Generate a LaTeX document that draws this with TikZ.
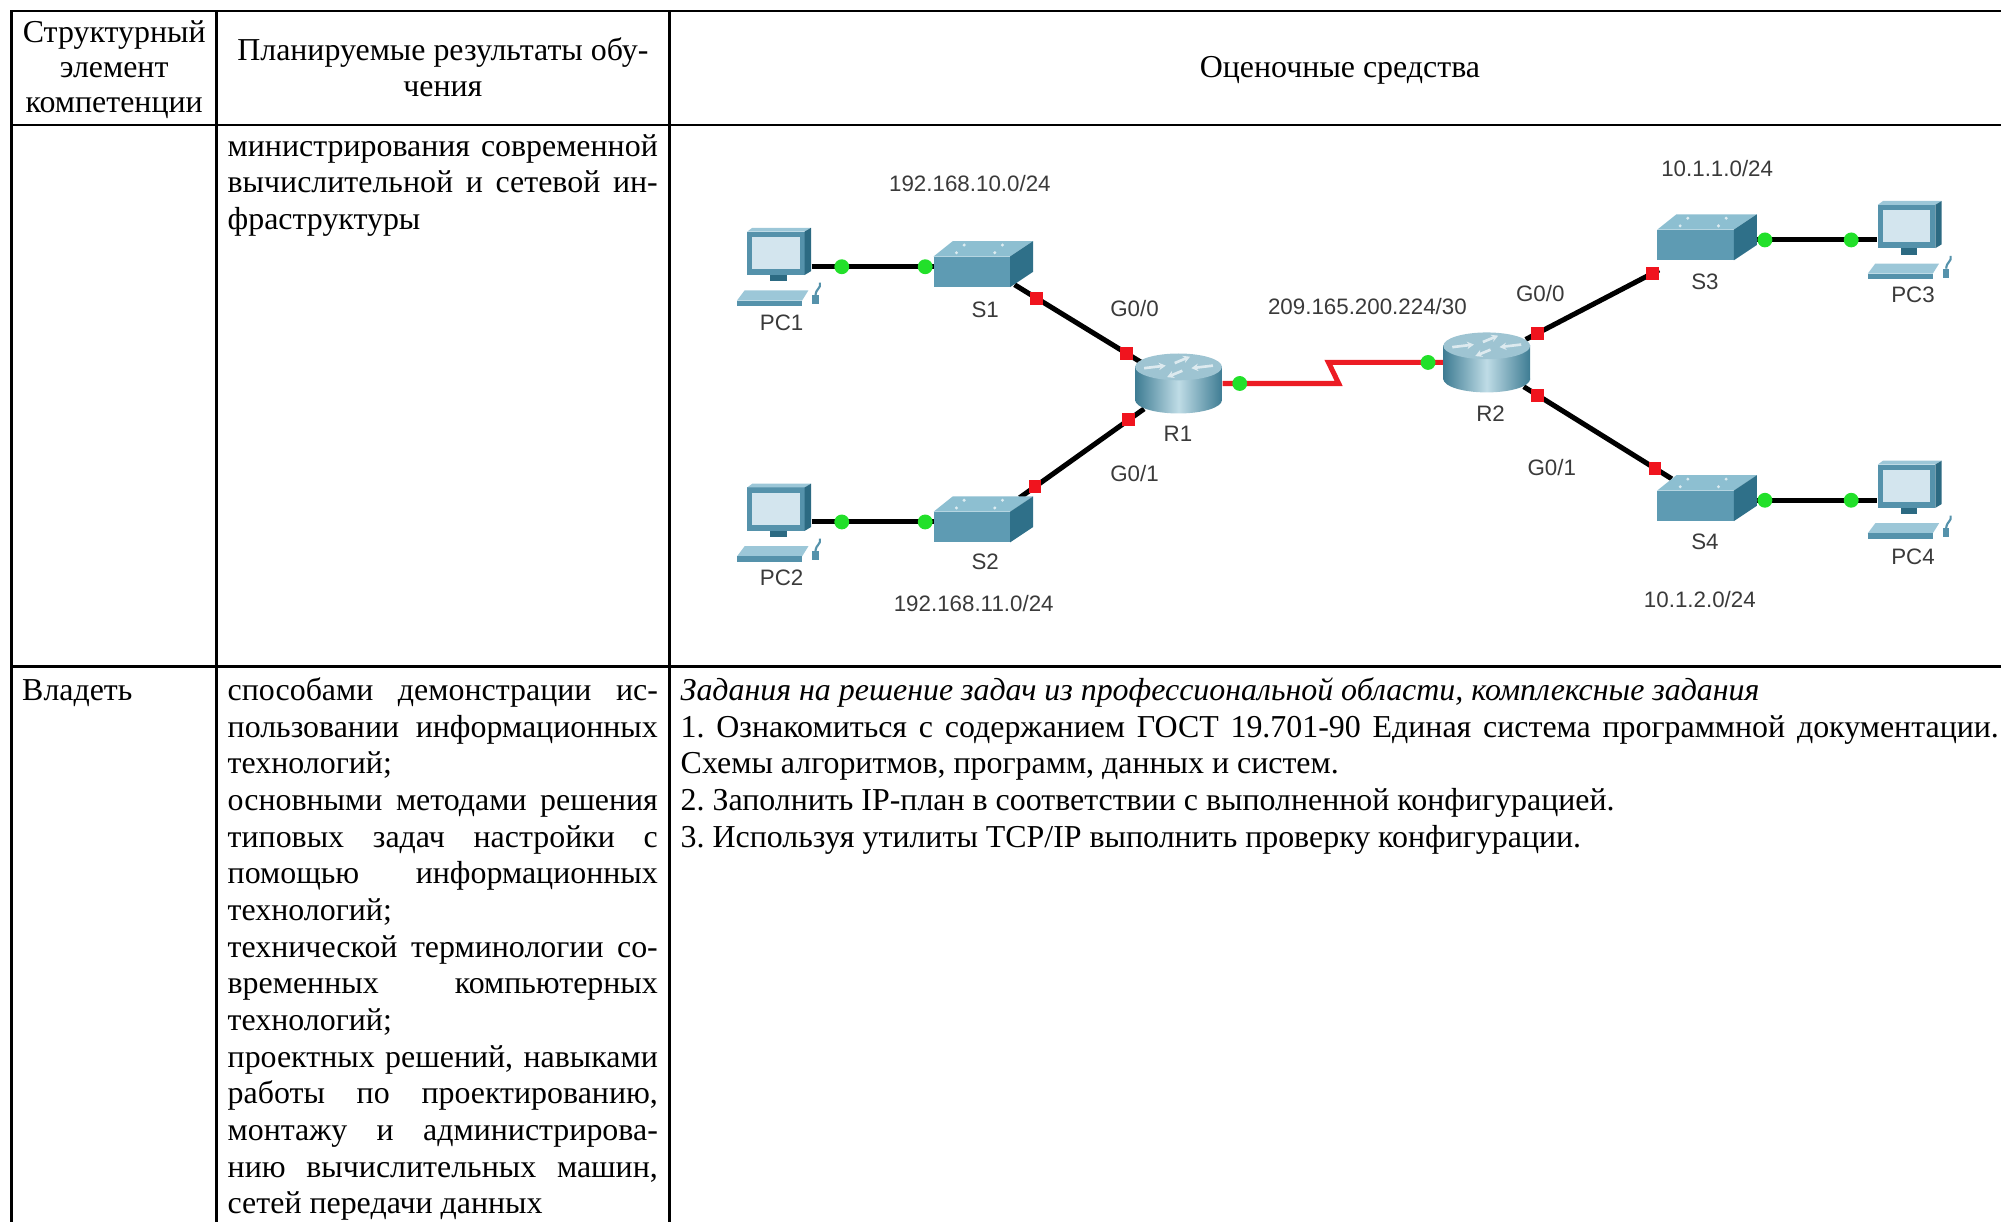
\documentclass[tikz,border=0pt]{standalone}
\usepackage{fontspec}
\setmainfont{Liberation Serif}
\newfontfamily\netfont{Liberation Sans}
\usepackage{xcolor}
\usepackage{tikz}
\usetikzlibrary{arrows.meta}

\definecolor{pcframe}{HTML}{5592AB}
\definecolor{pcdark}{HTML}{2C6A82}
\definecolor{pclight}{HTML}{9CC7D8}
\definecolor{pcscreen}{HTML}{D3E5EE}
\definecolor{swfront}{HTML}{5E9BB3}
\definecolor{swtop}{HTML}{8DBFD1}
\definecolor{swside}{HTML}{2F7089}
\definecolor{rtdark}{HTML}{3E7C93}
\definecolor{rtlight}{HTML}{BFDCE6}
\definecolor{rttop}{HTML}{9EC4D2}
\definecolor{portgreen}{HTML}{22E02A}
\definecolor{portred}{HTML}{F0141E}
\definecolor{serialred}{HTML}{EC1C24}
\definecolor{lblgray}{HTML}{3A3A3A}

\begin{document}
\begin{tikzpicture}[x=0.48pt, y=-0.48pt,
  tabline/.style={line width=1.05pt, line cap=rect},
  txt/.style={anchor=base west, inner sep=0pt, font=\fontsize{12pt}{13.8pt}\selectfont\frenchspacing},
  head/.style={txt, anchor=base},
  lbl/.style={inner sep=0pt, text=lblgray, font=\netfont\fontsize{8.4pt}{10pt}\selectfont},
  lan/.style={line width=1.9pt, black},
  wan/.style={line width=1.9pt, serialred},
  gdot/.style={circle, fill=portgreen, inner sep=0pt, minimum size=5.6pt},
  rdot/.style={rectangle, fill=portred, inner sep=0pt, minimum size=4.8pt},
  pc/.pic={
    \fill[pcframe] (-25,-17) rectangle (20,17);
    \fill[pclight] (-25,-17) -- (-21,-20) -- (25,-20) -- (20,-17) -- cycle;
    \fill[pcdark] (20,-17) -- (25,-20) -- (25,14) -- (20,17) -- cycle;
    \fill[pcscreen] (-21,-13) rectangle (16,12);
    \fill[pcdark] (-7,17) rectangle (6,22);
    \fill[pclight] (-33,37) -- (-27,29) -- (23,29) -- (18,37) -- cycle;
    \fill[pcframe] (-33,37) rectangle (18,41);
    \fill[pcframe] (26,33) rectangle (31,40);
    \draw[pcframe, line width=0.8pt] (28.5,33) .. controls (29,27) and (33,28) .. (32,23);
  },
  switch/.pic={
    \fill[swfront] (-30,-12) rectangle (30,12);
    \fill[swtop] (-30,-12) -- (-15,-24) -- (48,-24) -- (30,-12) -- cycle;
    \fill[swside] (30,-12) -- (48,-24) -- (48,0) -- (30,12) -- cycle;
    \foreach \a/\b in {-6/-21,24/-21,-12/-15,18/-15}
      \fill[white!70!swtop] (\a,\b) circle (1.3);
  },
  router/.pic={
    \shade[left color=rtdark, right color=rtdark, middle color=rtlight] (-34,-13) rectangle (34,13);
    \shade[left color=rtdark, right color=rtdark, middle color=rtlight] (0,13) ellipse [x radius=34, y radius=10.5];
    \fill[rttop] (0,-13) ellipse [x radius=34, y radius=10.5];
    \foreach \a/\b/\c/\d in {-27/-12/-10/-14, 27/-14/10/-12, -3/-16/9/-21, 3/-10/-9/-5}
      \draw[white!65!rttop, line width=1pt, -{Stealth[length=2.6pt,width=2.8pt]}] (\a,\b) -- (\c,\d);
  }]
  \useasboundingbox (0,0) rectangle (1568,957);

  % table
  \draw[tabline] (9,8.6) -- (1600,8.6);
  \draw[tabline] (9,98) -- (1600,98);
  \draw[tabline] (9,522.5) -- (1600,522.5);
  \foreach \x in {9,169.5,524.5} {
    \draw[tabline] (\x,8.6) -- (\x,990);
  }

  % header
  \foreach \t [count=\i] in {Структурный, элемент, компетенции} {
    \node[head] (hA\i) at (89.5,5.5+27.5*\i) {\t};
  }
  \node[head] (hB1) at (347,47.5) {Планируемые результаты обу-};
  \node[head] (hB2) at (347,75.5) {чения};
  \node[head] (hC) at (1050,61) {Оценочные средства};

  % second row
  \foreach \m/\t [count=\i from 0] in {s/{министрирования современной}, s/{вычислительной и сетевой ин-}, l/{фраструктуры}} {
    \node[txt] (infra\i) at (178,122.5+28.72*\i) {\makebox[161.8pt][\m]{\t}};
  }

  % third row
  \node[txt] (own) at (17,549) {Владеть};
  \foreach \m/\t [count=\i from 0] in {
      s/{способами демонстрации ис-},
      s/{пользовании информационных},
      l/{технологий;},
      s/{основными методами решения},
      s/{типовых задач настройки с},
      s/{помощью информационных},
      l/{технологий;},
      s/{технической терминологии со-},
      s/{временных компьютерных},
      l/{технологий;},
      s/{проектных решений, навыками},
      s/{работы по проектированию,},
      s/{монтажу и администрирова-},
      s/{нию вычислительных машин,},
      l/{сетей передачи данных}} {
    \node[txt] (skill\i) at (178,549+28.72*\i) {\makebox[161.8pt][\m]{\t}};
  }
  \foreach \m/\t [count=\i from 0] in {
      l/{\itshape Задания на решение задач из профессиональной области, комплексные задания},
      s/{1. Ознакомиться с содержанием ГОСТ 19.701-90 Единая система программной документации.},
      l/{Схемы алгоритмов, программ, данных и систем.},
      l/{2. Заполнить IP-план в соответствии с выполненной конфигурацией.},
      l/{3. Используя утилиты TCP/IP выполнить проверку конфигурации.}} {
    \node[txt] (task\i) at (533,549+28.72*\i) {\makebox[495.8pt][\m]{\t}};
  }

  % network: devices and ports
  \coordinate (PC1) at (610.5,198.5);
  \coordinate (PC2) at (610.5,399);
  \coordinate (PC3) at (1496.5,177.5);
  \coordinate (PC4) at (1496.5,381);
  \coordinate (S1) at (761.5,213);
  \coordinate (S2) at (761.5,413);
  \coordinate (S3) at (1328.6,192);
  \coordinate (S4) at (1328.6,396.4);
  \coordinate (R1) at (923.5,300.5);
  \coordinate (R2) at (1165,284);

  \coordinate (PC1p) at (636,209);
  \coordinate (S1w) at (732,209);
  \coordinate (PC2p) at (636,409);
  \coordinate (S2w) at (732,409);
  \coordinate (S1r) at (795,223.1);
  \coordinate (R1a) at (896,285);
  \coordinate (S2r) at (799,390);
  \coordinate (R1b) at (896.5,320.4);
  \coordinate (R1c) at (958,300.5);
  \coordinate (Z1) at (1049,300.5);
  \coordinate (Z2) at (1041,284);
  \coordinate (R2c) at (1131,284);
  \coordinate (R2a) at (1195.5,266);
  \coordinate (S3l) at (1300,211.5);
  \coordinate (R2b) at (1194,303);
  \coordinate (S4l) at (1310,375.2);
  \coordinate (S3e) at (1372,188);
  \coordinate (PC3p) at (1471,188);
  \coordinate (S4e) at (1372,392);
  \coordinate (PC4p) at (1471,392);

  % links
  \draw[lan] (PC1p) -- (S1w) node[gdot,pos=.246] (d1){} node[gdot,pos=.927] (d2){};
  \draw[lan] (PC2p) -- (S2w) node[gdot,pos=.246] (d3){} node[gdot,pos=.927] (d4){};
  \draw[lan] (S1r) -- (R1a) node[rdot,pos=.173] (d5){} node[rdot,pos=.871] (d6){};
  \draw[lan] (S2r) -- (R1b) node[rdot,pos=.123] (d7){} node[rdot,pos=.877] (d8){};
  \draw[wan] (R1c) -- node[gdot,pos=.148] (d9){} (Z1) -- (Z2) -- node[gdot,pos=.867] (d10){} (R2c);
  \draw[lan] (R2a) -- (S3l) node[rdot,pos=.089] (d11){} node[rdot,pos=.951] (d12){};
  \draw[lan] (R2b) -- (S4l) node[rdot,pos=.093] (d13){} node[rdot,pos=.886] (d14){};
  \draw[lan] (S3e) -- (PC3p) node[gdot,pos=.111] (d15){} node[gdot,pos=.794] (d16){};
  \draw[lan] (S4e) -- (PC4p) node[gdot,pos=.111] (d17){} node[gdot,pos=.794] (d18){};

  \foreach \d in {PC1,PC2,PC3,PC4} {
    \pic at (\d) {pc};
  }
  \foreach \d in {S1,S2,S3,S4} {
    \pic at (\d) {switch};
  }
  \foreach \d in {R1,R2} {
    \pic at (\d) {router};
  }

  % labels
  \node[lbl] (l1) at (612.5,253) {PC1};
  \node[lbl] (l2) at (612.5,453) {PC2};
  \node[lbl] (l3) at (1499,231) {PC3};
  \node[lbl] (l4) at (1499,436) {PC4};
  \node[lbl] (l5) at (772,243) {S1};
  \node[lbl] (l6) at (772,440) {S2};
  \node[lbl] (l7) at (1336,220.7) {S3};
  \node[lbl] (l8) at (1336,424.5) {S4};
  \node[lbl] (l9) at (923,340) {R1};
  \node[lbl] (l10) at (1168,324) {R2};
  \node[lbl] (l11) at (889,241.6) {G0/0};
  \node[lbl] (l12) at (889,371) {G0/1};
  \node[lbl] (l13) at (1207,230) {G0/0};
  \node[lbl] (l14) at (1216,366) {G0/1};
  \node[lbl] (l15) at (760,143.7) {192.168.10.0/24};
  \node[lbl] (l16) at (763,472.8) {192.168.11.0/24};
  \node[lbl] (l17) at (1071.5,240.3) {209.165.200.224/30};
  \node[lbl] (l18) at (1345.6,132) {10.1.1.0/24};
  \node[lbl] (l19) at (1332,470) {10.1.2.0/24};
\end{tikzpicture}
\end{document}
